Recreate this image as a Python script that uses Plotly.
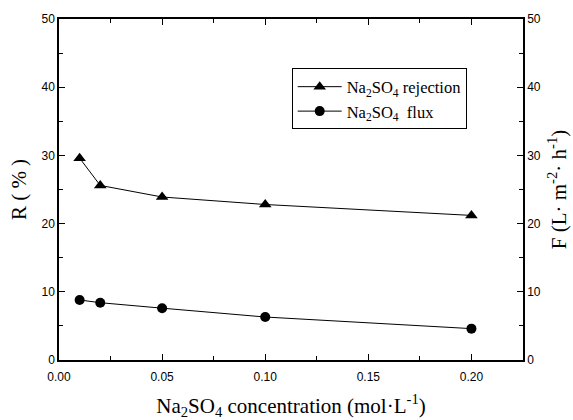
import plotly.graph_objects as go

conc = [0.01, 0.02, 0.05, 0.10, 0.20]
rejection = [29.6, 25.6, 23.9, 22.8, 21.2]
flux = [8.8, 8.4, 7.6, 6.3, 4.6]

x_ticks = [0.00, 0.05, 0.10, 0.15, 0.20]
x_ticklabels = ["0.00", "0.05", "0.10", "0.15", "0.20"]
y_ticks = [0, 10, 20, 30, 40, 50]

fig = go.Figure()
fig.add_trace(go.Scatter(
    x=conc, y=rejection, mode="lines+markers",
    name="Na<sub>2</sub>SO<sub>4</sub> rejection",
    line=dict(color="black", width=1),
    marker=dict(symbol="triangle-up", size=11, color="black"),
))
fig.add_trace(go.Scatter(
    x=conc, y=flux, mode="lines+markers",
    name="Na<sub>2</sub>SO<sub>4</sub>  flux",
    line=dict(color="black", width=1),
    marker=dict(symbol="circle", size=10, color="black"),
    yaxis="y2",
))

tickfont = dict(family="Liberation Sans, Arial", size=12, color="black")
titlefont = dict(family="Liberation Serif, Times New Roman", size=21, color="black")

fig.update_layout(
    template="none",
    width=573, height=420,
    margin=dict(l=59, r=50, t=19, b=60),
    paper_bgcolor="white", plot_bgcolor="white",
    showlegend=True,
    legend=dict(
        x=0.5015, y=0.855, xanchor="left", yanchor="top",
        bordercolor="black", borderwidth=1, bgcolor="white",
        font=dict(family="Liberation Serif, Times New Roman", size=16.5, color="black"),
        tracegroupgap=0, itemwidth=44,
    ),
    xaxis=dict(
        range=[0, 0.225], tickvals=x_ticks, ticktext=x_ticklabels,
        ticks="inside", ticklen=6, tickwidth=1, tickcolor="black",
        showline=True, linecolor="black", linewidth=1.5, mirror="ticks",
        showgrid=False, zeroline=False, tickfont=tickfont, automargin=False,
        ticklabelstandoff=5,
        minor=dict(dtick=0.025, ticks="inside", ticklen=4, tickcolor="black", showgrid=False),
        title=dict(text="Na<sub>2</sub>SO<sub>4</sub> concentration (mol·L<sup>-1</sup>)",
                   font=titlefont, standoff=19),
    ),
    yaxis=dict(
        range=[0, 50], tickvals=y_ticks,
        ticks="inside", ticklen=6, tickwidth=1, tickcolor="black",
        showline=True, linecolor="black", linewidth=1.5,
        showgrid=False, zeroline=False, tickfont=tickfont, automargin=False,
        minor=dict(dtick=5, ticks="inside", ticklen=4, tickcolor="black", showgrid=False),
        title=dict(text="R ( % )", font=titlefont, standoff=9),
    ),
    yaxis2=dict(
        range=[0, 50], tickvals=y_ticks, overlaying="y", side="right",
        ticks="inside", ticklen=6, tickwidth=1, tickcolor="black",
        showline=True, linecolor="black", linewidth=1.5,
        showgrid=False, zeroline=False, tickfont=tickfont, automargin=False,
        minor=dict(dtick=5, ticks="inside", ticklen=4, tickcolor="black", showgrid=False),
        title=dict(text="F (L·\u00a0m<sup>-2</sup>·\u00a0h<sup>-1</sup>)", font=titlefont, standoff=11),
    ),
)

fig.write_html("out.html", config={"displayModeBar": False},
               post_script="document.body.style.margin='0px';")
